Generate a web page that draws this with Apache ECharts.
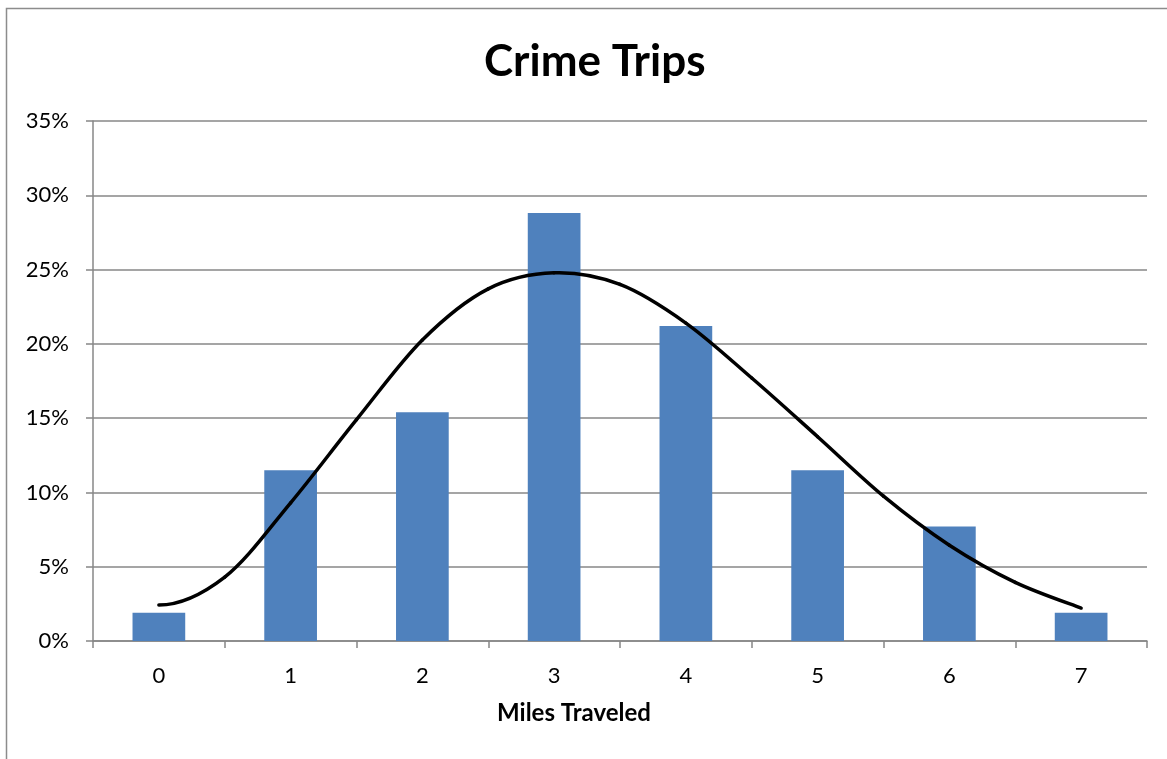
<!DOCTYPE html>
<html>
<head>
<meta charset="utf-8">
<style>
  html, body { margin: 0; padding: 0; background: #ffffff; }
  #chart { width: 1167px; height: 759px; }
</style>
<script src="https://cdn.jsdelivr.net/npm/echarts@6/dist/echarts.min.js"></script>
</head>
<body>
<div id="chart"></div>
<script>
// Miles traveled per crime trip
const miles = ['0', '1', '2', '3', '4', '5', '6', '7'];
// Share of trips at each distance
const tripShare = [0.019, 0.115, 0.154, 0.288, 0.212, 0.115, 0.077, 0.019];
// Fitted curve over the distribution, sampled every half mile
const curveMiles = [0, 0.5, 1, 1.5, 2, 2.5, 3, 3.5, 4, 4.5, 5, 5.5, 6, 6.5, 7];
const curveShare = [0.0242, 0.043, 0.093, 0.149, 0.2026, 0.237, 0.2478, 0.240, 0.214,
                    0.177, 0.1375, 0.0975, 0.0645, 0.0395, 0.0222];
// Y axis range
const yMin = 0, yMax = 0.35, yStep = 0.05;

const FONT = 'Lato, "Open Sans", sans-serif';
const GRID_GRAY = '#878787';

const chart = echarts.init(document.getElementById('chart'), null, { renderer: 'canvas' });

// Draws the fitted curve as one Catmull-Rom spline through its samples,
// positioned with the chart's own coordinate system. The curve leaves the
// first sample level and eases into the last one.
function renderCurve(params, api) {
  if (params.dataIndex !== 0) return null;
  const pts = curveMiles.map((m, i) => api.coord([m, curveShare[i]]));
  const n = pts.length;
  const children = [];
  for (let i = 0; i < n - 1; i++) {
    const p1 = pts[i];
    const p2 = pts[i + 1];
    const p0 = i === 0 ? [2 * p1[0] - p2[0], p2[1]] : pts[i - 1];
    const p3 = pts[Math.min(i + 2, n - 1)];
    children.push({
      type: 'bezierCurve',
      shape: {
        x1: p1[0], y1: p1[1],
        cpx1: p1[0] + (p2[0] - p0[0]) / 6, cpy1: p1[1] + (p2[1] - p0[1]) / 6,
        cpx2: p2[0] - (p3[0] - p1[0]) / 6, cpy2: p2[1] - (p3[1] - p1[1]) / 6,
        x2: p2[0], y2: p2[1]
      },
      style: { stroke: '#000000', lineWidth: 3.5, fill: null, lineCap: 'round' }
    });
  }
  return { type: 'group', children: children };
}

chart.setOption({
  animation: false,
  backgroundColor: '#ffffff',
  title: {
    text: 'Crime Trips',
    left: 479,
    top: 35,
    textStyle: { fontFamily: FONT, fontSize: 44, fontWeight: 'bold', color: '#000000' }
  },
  grid: { left: 93, right: 20, top: 121, bottom: 118, containLabel: false },
  xAxis: [
    {
      type: 'category',
      data: miles,
      boundaryGap: true,
      axisLine: { show: true, lineStyle: { color: GRID_GRAY, width: 1.5 } },
      axisTick: { show: true, alignWithLabel: false, length: 7, lineStyle: { color: GRID_GRAY, width: 1.5 } },
      axisLabel: { fontFamily: FONT, fontSize: 22, color: '#000000', margin: 24 },
      splitLine: { show: false }
    },
    {
      // continuous mileage scale for the fitted curve, aligned with the categories
      type: 'value',
      min: -0.5,
      max: 7.5,
      show: false,
      splitLine: { show: false }
    }
  ],
  yAxis: {
    type: 'value',
    min: yMin,
    max: yMax,
    interval: yStep,
    axisLine: { show: true, onZero: false, lineStyle: { color: GRID_GRAY, width: 1.5 } },
    axisTick: { show: true, inside: false, length: 7, lineStyle: { color: GRID_GRAY, width: 1.5 } },
    axisLabel: {
      fontFamily: FONT, fontSize: 22, color: '#000000', margin: 24,
      formatter: v => Math.round(v * 100) + '%'
    },
    splitLine: { show: true, lineStyle: { color: GRID_GRAY, width: 1.5 } }
  },
  series: [
    {
      name: 'Trips',
      type: 'bar',
      data: tripShare,
      barWidth: '40%',
      itemStyle: { color: '#4F81BD' },
      z: 2
    },
    {
      name: 'Fit',
      type: 'custom',
      xAxisIndex: 1,
      data: curveMiles.map((m, i) => [m, curveShare[i]]),
      renderItem: renderCurve,
      clip: false,
      z: 3
    }
  ],
  graphic: [
    {
      type: 'rect',
      shape: { x: 6.5, y: 8.5, width: 1300, height: 900 },
      style: { fill: 'none', stroke: '#8c8c8c', lineWidth: 1.5 },
      silent: true,
      z: -1
    },
    {
      type: 'text',
      x: 574,
      y: 713,
      style: {
        text: 'Miles Traveled',
        fontFamily: FONT,
        fontSize: 24,
        fontWeight: 'bold',
        fill: '#000000',
        textAlign: 'center',
        textVerticalAlign: 'middle'
      }
    }
  ]
});
</script>
</body>
</html>
